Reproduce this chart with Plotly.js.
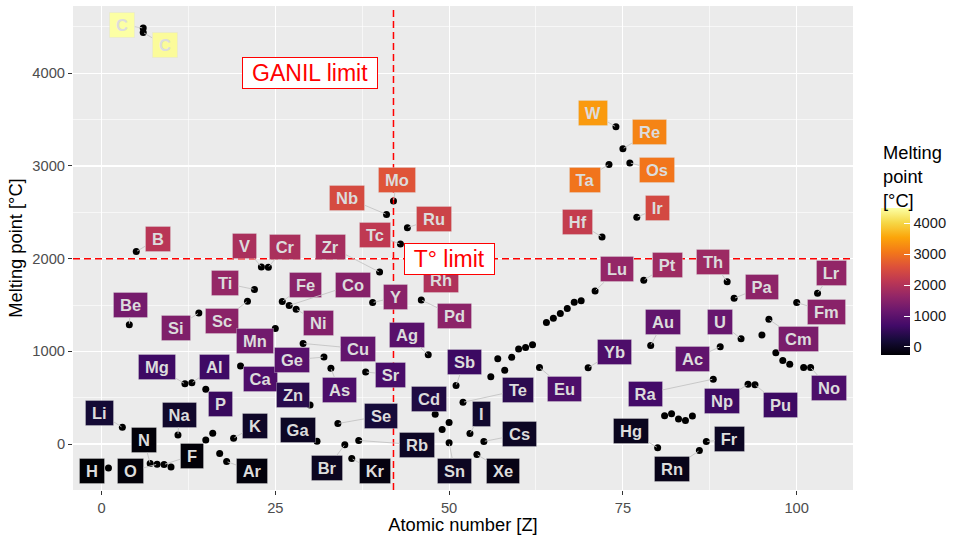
<!DOCTYPE html>
<html><head><meta charset="utf-8">
<script src="https://cdn.plot.ly/plotly-3.0.1.min.js"></script>
<style>body{margin:0;background:#fff}#chart{width:959px;height:535px}</style>
</head><body><div id="chart"></div>
<script>
// ---- data: atomic number, symbol, melting point (°C) ----
const Z = [1,3,4,5,6,6,7,8,9,10,11,12,13,14,15,15,16,17,18,19,20,21,22,23,24,25,26,27,28,29,30,31,32,33,34,35,36,37,38,39,40,41,42,43,44,45,46,47,48,49,50,50,51,52,53,54,55,56,57,58,59,60,61,62,63,64,65,66,67,68,69,70,71,72,73,74,75,76,77,78,79,80,81,82,83,84,85,86,87,88,89,90,91,92,93,94,95,96,97,98,99,100,101,102,103];
const SYM = ["H","Li","Be","B","C","C","N","O","F","Ne","Na","Mg","Al","Si","P","P","S","Cl","Ar","K","Ca","Sc","Ti","V","Cr","Mn","Fe","Co","Ni","Cu","Zn","Ga","Ge","As","Se","Br","Kr","Rb","Sr","Y","Zr","Nb","Mo","Tc","Ru","Rh","Pd","Ag","Cd","In","Sn","Sn","Sb","Te","I","Xe","Cs","Ba","La","Ce","Pr","Nd","Pm","Sm","Eu","Gd","Tb","Dy","Ho","Er","Tm","Yb","Lu","Hf","Ta","W","Re","Os","Ir","Pt","Au","Hg","Tl","Pb","Bi","Po","At","Rn","Fr","Ra","Ac","Th","Pa","U","Np","Pu","Am","Cm","Bk","Cf","Es","Fm","Md","No","Lr"];
const MELT = [-259,180,1287,2076,4489,4440,-210,-218,-220,-249,98,650,660,1414,44,590,115,-102,-189,63,842,1541,1668,1910,1907,1246,1538,1495,1455,1085,420,30,938,817,221,-7,-157,39,777,1526,1855,2477,2623,2157,2334,1964,1555,962,321,157,232,13,631,450,114,-112,28,727,920,795,935,1024,1042,1072,826,1312,1356,1407,1461,1529,1545,824,1652,2233,3017,3422,3186,3033,2446,1768,1064,-39,304,327,271,254,302,-71,27,700,1050,1750,1572,1135,644,640,1176,1345,986,900,860,1527,827,827,1627];
// which entries carry a label ("" = no label)
const LABEL = ["H","Li","Be","B","C","C","N","O","F","","Na","Mg","Al","Si","","P","","","Ar","K","Ca","Sc","Ti","V","Cr","Mn","Fe","Co","Ni","Cu","Zn","Ga","Ge","As","Se","Br","Kr","Rb","Sr","Y","Zr","Nb","Mo","Tc","Ru","Rh","Pd","Ag","Cd","","","Sn","Sb","Te","I","Xe","Cs","","","","","","","","Eu","","","","","","","Yb","Lu","Hf","Ta","W","Re","Os","Ir","Pt","Au","Hg","","","","","","Rn","Fr","Ra","Ac","Th","Pa","U","Np","Pu","","Cm","","","","Fm","","No","Lr"];
// repelled label positions (layout, in axis units)
const LAB_X = [-1.32,-0.24,4.17,8.07,2.98,9.08,6.1,4.17,12.98,null,11.16,8.0,16.2,10.7,null,17.1,null,null,21.6,22.1,22.9,17.3,17.7,20.5,26.4,22.06,29.3,36.2,31.2,36.9,27.5,28.3,27.4,34.2,40.15,32.5,39.3,45.4,41.5,42.3,33.0,35.3,42.5,39.4,47.8,48.9,50.8,43.9,47.15,null,null,50.8,52.2,59.9,54.6,57.8,60.1,null,null,null,null,null,null,null,66.6,null,null,null,null,null,null,73.8,74.2,68.5,69.5,70.7,78.8,79.9,80.0,81.4,80.8,76.1,null,null,null,null,null,82.1,90.4,78.2,85.05,87.95,94.95,89.0,89.2,97.6,null,100.2,null,null,null,104.3,null,104.6,105.0];
const LAB_Y = [-295,334,1501,2215,4524,4303,41,-295,-124,null,316,831,831,1253,null,429,null,null,-286,199,700,1325,1735,2139,2128,1110,1720,1720,1309,1030,531,154,908,586,303,-255,-295,-8,750,1585,2126,2657,2845,2252,2431,1771,1379,1181,483,null,null,-290,885,580,329,-291,103,null,null,null,null,null,null,null,599,null,null,null,null,null,null,996,1884,2395,2853,3570,3363,2956,2546,1929,1316,136,null,null,null,null,null,-268,52,544,914,1968,1695,1316,463,420,null,1129,null,null,null,1426,null,607,1848];
const LIMIT_Z = 42, LIMIT_T = 2000;
const X_TICKS = [0,25,50,75,100];
const Y_TICKS = [0,1000,2000,3000,4000];
const CB_TICKS = [0,1000,2000,3000,4000];

// ---- style ----
const FONT = "Liberation Sans, Arial, sans-serif";
const INFERNO = ['#000004','#160B39','#420A68','#6A176E','#932667','#BC3754','#DD513A','#F37819','#FCA50A','#F6D746','#FCFFA4'];
const cscale = INFERNO.map((c,i)=>[i/(INFERNO.length-1), c]);
const tmin = Math.min(...MELT), tmax = Math.max(...MELT);
function hex2rgb(h){return [1,3,5].map(k=>parseInt(h.substr(k,2),16));}
function infernoAt(v){
  let t = (v - tmin)/(tmax - tmin); t = Math.max(0, Math.min(1, t));
  const p = t*(INFERNO.length-1), i = Math.min(Math.floor(p), INFERNO.length-2), f = p - i;
  const a = hex2rgb(INFERNO[i]), b = hex2rgb(INFERNO[i+1]);
  return 'rgb(' + a.map((x,k)=>Math.round(x + (b[k]-x)*f)).join(',') + ')';
}
const cv = document.createElement('canvas').getContext('2d');
function textW(s, size){ cv.font = 'bold ' + size + 'px "Liberation Sans"'; return cv.measureText(s).width; }
function textWn(s, size){ cv.font = size + 'px "Liberation Sans"'; return cv.measureText(s).width; }

const xr = [-4.1, 108.1], yr = [-496, 4726];
const M = {l:73, r:104, t:6, b:45};
const W = 959, H = 535;
const pxX = (W - M.l - M.r)/(xr[1]-xr[0]);
const pxY = (H - M.t - M.b)/(yr[1]-yr[0]);

const LSIZE = 16.5;
const annotations = [];
for (let i = 0; i < Z.length; i++) {
  if (!LABEL[i]) continue;
  const w = textW(LABEL[i], LSIZE);
  const halfW = w/2 + 7, halfH = 12;
  const dx = Math.abs(LAB_X[i]-Z[i])*pxX, dy = Math.abs(LAB_Y[i]-MELT[i])*pxY;
  const gap = Math.max(dx - halfW, dy - halfH);
  const base = {
    text: '<b>' + LABEL[i] + '</b>',
    font: {family: FONT, size: LSIZE, color: '#dcdcdc'},
    bgcolor: infernoAt(MELT[i]), bordercolor: 'rgba(220,220,220,0.35)', borderwidth: 1,
    borderpad: 3, width: w + 6, height: 18, xref: 'x', yref: 'y'
  };
  if (gap > 6) {
    annotations.push(Object.assign(base, {x: Z[i], y: MELT[i], ax: LAB_X[i], ay: LAB_Y[i],
      axref: 'x', ayref: 'y', showarrow: true, arrowhead: 0, arrowwidth: 0.9,
      arrowcolor: '#c4c4c4', standoff: 1}));
  } else {
    annotations.push(Object.assign(base, {x: LAB_X[i], y: LAB_Y[i], showarrow: false}));
  }
}
function limitLabel(txt, x, y){
  return {text: txt, x: x, y: y, xref:'x', yref:'y', showarrow:false,
    font:{family: FONT, size: 23, color:'#ff0000'}, bgcolor:'#ffffff', bordercolor:'#ff0000',
    borderwidth: 1, borderpad: 3, width: textWn(txt, 23) + 12, height: 24};
}
annotations.push(limitLabel('GANIL limit', 30, 4000));
annotations.push(limitLabel('T° limit', 50.1, 2000));
annotations.push({text:'Melting<br>point<br>[°C]', xref:'paper', yref:'paper', x:(883-M.l)/(W-M.l-M.r),
  y:(H-M.b-140)/(H-M.t-M.b), xanchor:'left', yanchor:'top', align:'left', showarrow:false,
  font:{family:FONT, size:18.3, color:'#000000'}});

const traces = [
  {type:'scatter', mode:'markers', x: Z, y: MELT, hoverinfo:'skip',
   marker:{color:'#000000', size:7}, showlegend:false},
  {type:'scatter', mode:'markers', x: Z, y: MELT, hoverinfo:'skip', showlegend:false,
   marker:{color: MELT, colorscale: cscale, cmin: tmin, cmax: tmax, opacity: 0, size: 1,
     showscale: true,
     colorbar:{x:(883-M.l)/(W-M.l-M.r), xanchor:'left', y:(H-M.b-208)/(H-M.t-M.b), yanchor:'top',
       len:147, lenmode:'pixels', thickness:29, thicknessmode:'pixels', outlinewidth:0,
       xpad:0, ypad:0, tickvals: CB_TICKS, ticks:'inside', ticklen:6, tickcolor:'#ffffff',
       tickprefix:'\u2004',
       tickfont:{family:FONT, size:14.7, color:'#1a1a1a'}}}}
];

const layout = {
  width: W, height: H, margin: M, paper_bgcolor:'#ffffff', plot_bgcolor:'#EBEBEB',
  font:{family: FONT},
  xaxis:{range: xr, tickvals: X_TICKS, showgrid:true, gridcolor:'#ffffff', gridwidth:1.2, zeroline:false,
    ticks:'outside', ticklen:4, tickcolor:'#333333', tickwidth:1,
    tickfont:{family:FONT, size:14.7, color:'#4d4d4d'},
    minor:{tickvals:[12.5,37.5,62.5,87.5], showgrid:true, gridcolor:'#ffffff', gridwidth:0.6, ticklen:0},
    title:{text:'Atomic number [Z]', font:{family:FONT, size:18.3, color:'#000000'}, standoff:3}},
  yaxis:{range: yr, tickvals: Y_TICKS, showgrid:true, gridcolor:'#ffffff', gridwidth:1.2, zeroline:false,
    ticks:'outside', ticklen:4, tickcolor:'#333333', tickwidth:1,
    tickfont:{family:FONT, size:14.7, color:'#4d4d4d'},
    minor:{tickvals:[-500,500,1500,2500,3500,4500], showgrid:true, gridcolor:'#ffffff', gridwidth:0.6, ticklen:0},
    title:{text:'Melting point [°C]', font:{family:FONT, size:18.3, color:'#000000'}, standoff:4}},
  shapes:[
    {type:'line', xref:'x', yref:'paper', x0:LIMIT_Z, x1:LIMIT_Z, y0:0, y1:1, layer:'above',
     line:{color:'#ff0000', width:1.5, dash:'7px,4px'}},
    {type:'line', xref:'paper', yref:'y', x0:0, x1:1, y0:LIMIT_T, y1:LIMIT_T, layer:'above',
     line:{color:'#ff0000', width:1.5, dash:'7px,4px'}}
  ],
  annotations: annotations
};
Plotly.newPlot('chart', traces, layout, {displayModeBar:false, staticPlot:true});
</script></body></html>
